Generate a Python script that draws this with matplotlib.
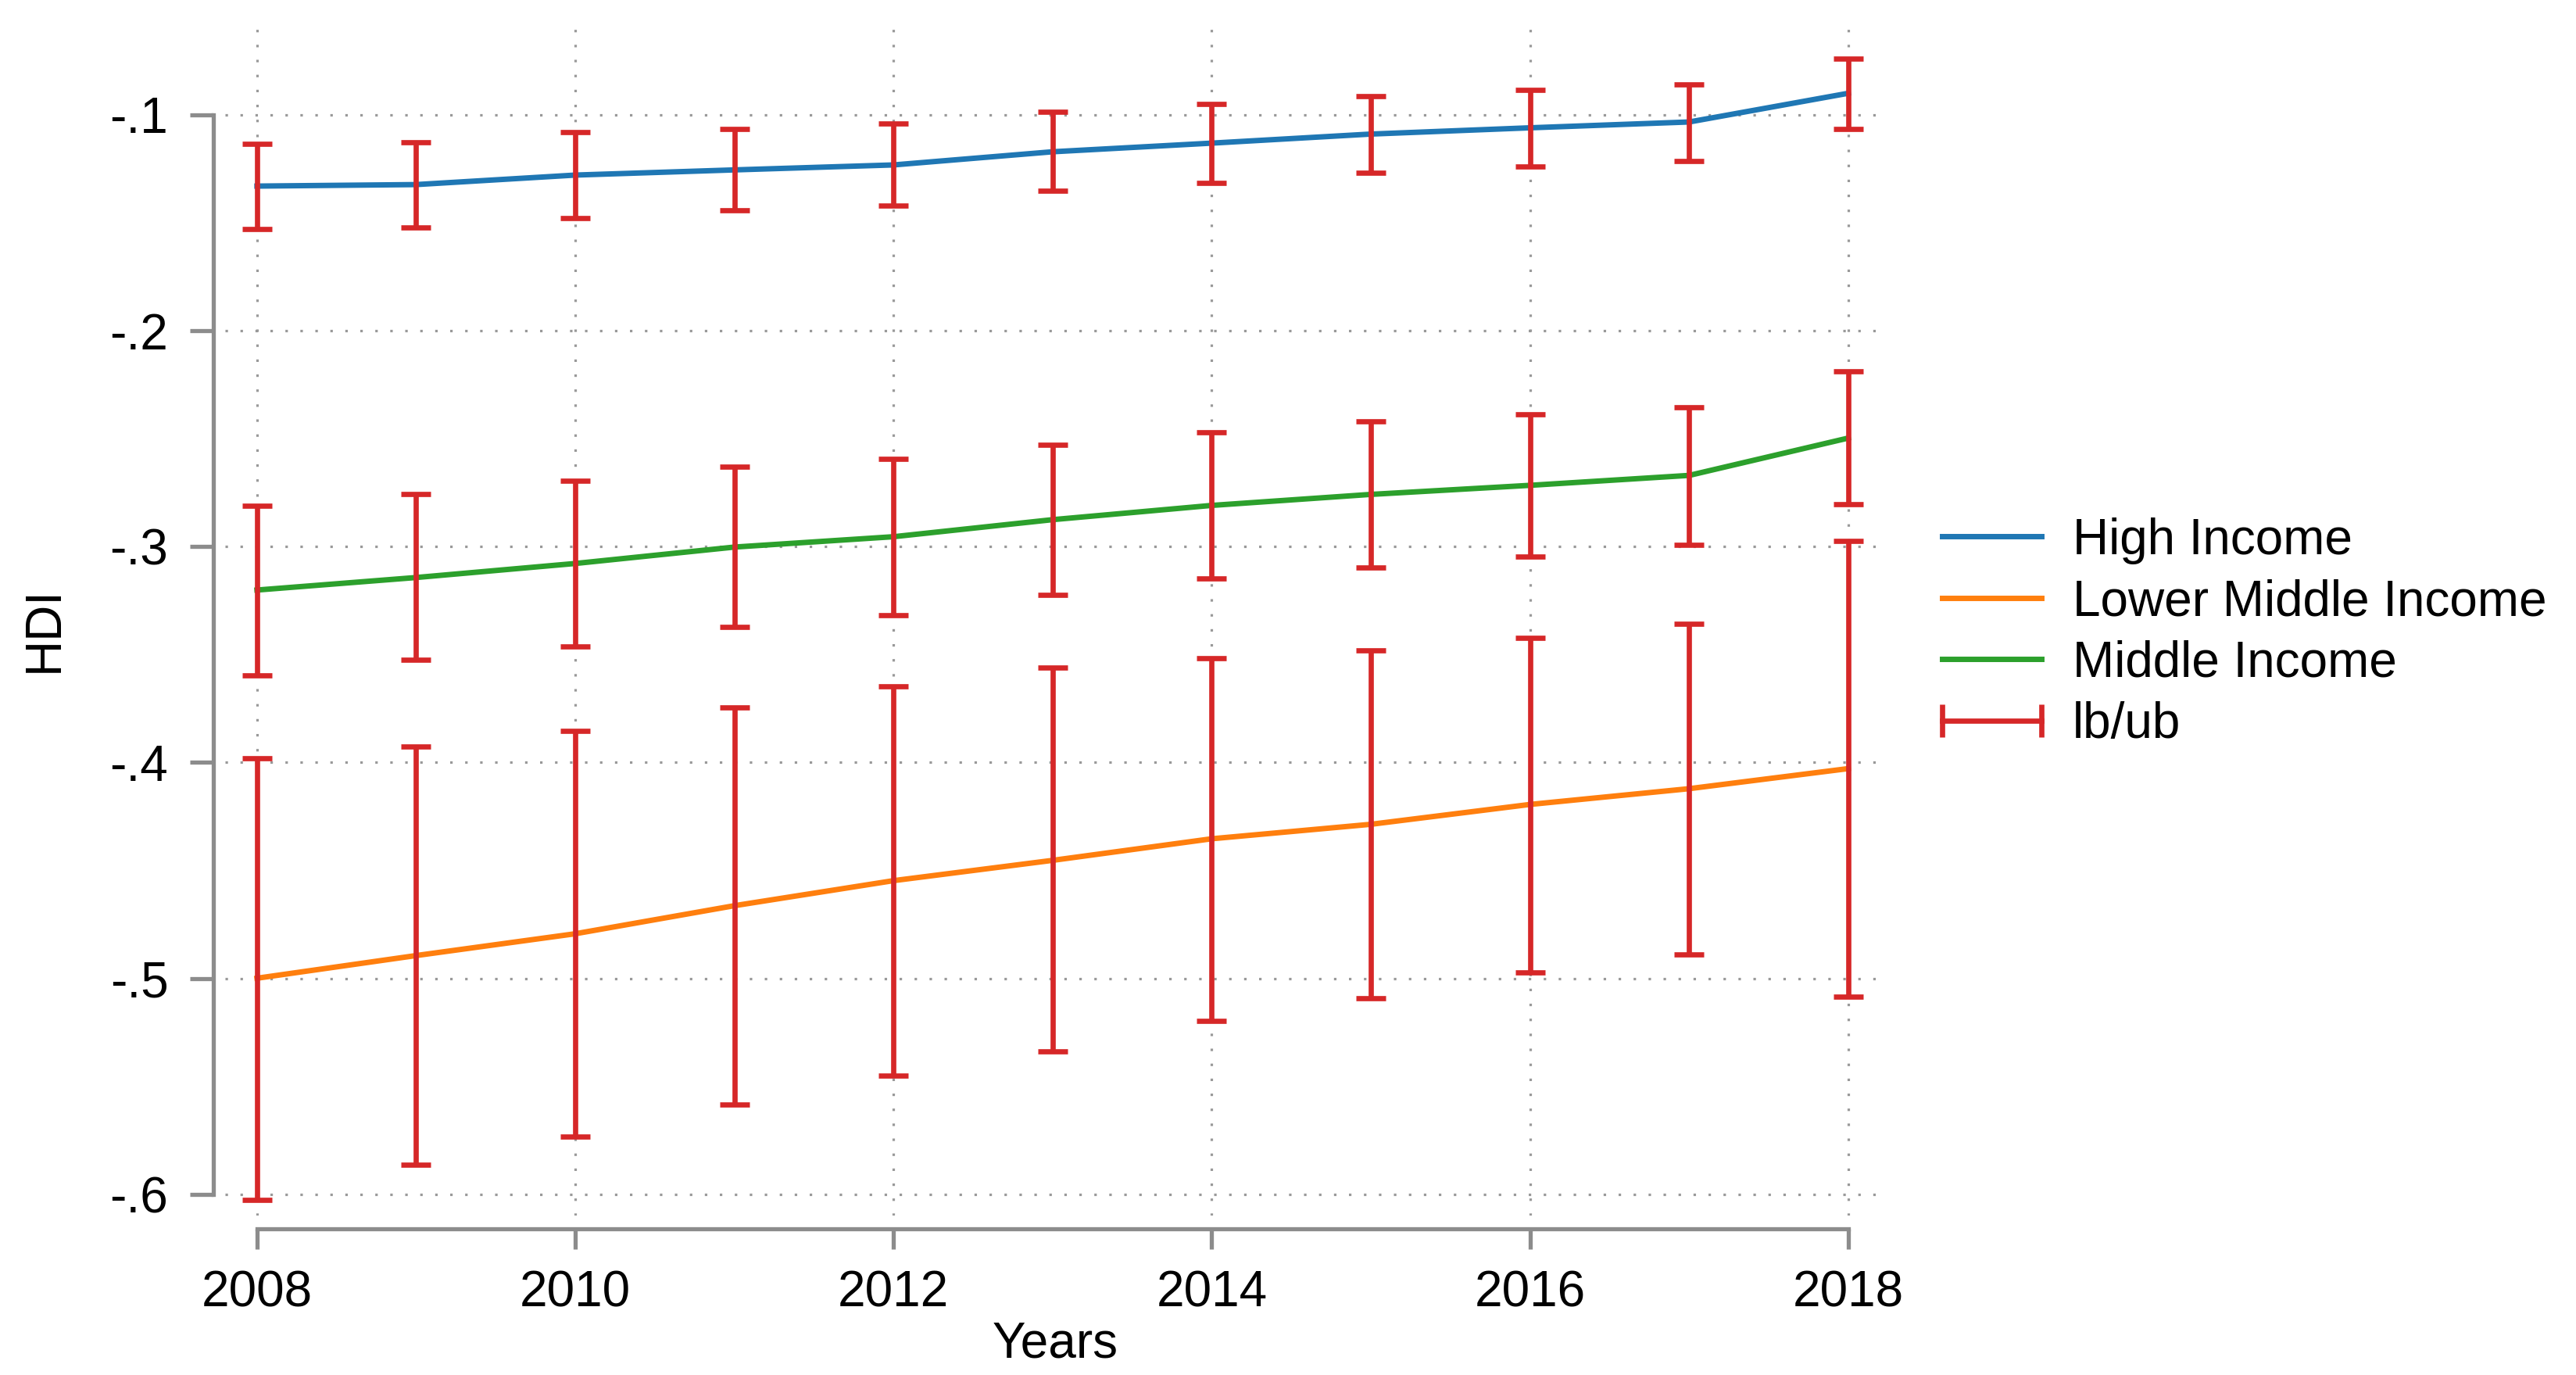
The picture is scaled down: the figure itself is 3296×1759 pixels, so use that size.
#!/usr/bin/env python3
"""HDI by income group, 2008-2018, with lb/ub confidence bars."""

import matplotlib
matplotlib.use("Agg")
import matplotlib.pyplot as plt
from matplotlib.lines import Line2D
import numpy as np

plt.rcParams['font.family'] = ['Liberation Sans', 'DejaVu Sans']

# ---- data ----
years = [2008, 2009, 2010, 2011, 2012, 2013, 2014, 2015, 2016, 2017, 2018]

high = [-0.1330, -0.1323, -0.1279, -0.1255, -0.1232, -0.1171, -0.1131, -0.1089, -0.1060, -0.1033, -0.0900]
high_lb = [-0.1528, -0.1521, -0.1478, -0.1443, -0.1421, -0.1351, -0.1316, -0.1270, -0.1240, -0.1215, -0.1065]
high_ub = [-0.1136, -0.1127, -0.1081, -0.1065, -0.1041, -0.0987, -0.0948, -0.0912, -0.0883, -0.0858, -0.0739]

lower_mid = [-0.4999, -0.4894, -0.4793, -0.4663, -0.4547, -0.4453, -0.4353, -0.4286, -0.4194, -0.4121, -0.4028]
lower_mid_lb = [-0.6025, -0.5863, -0.5733, -0.5584, -0.5449, -0.5338, -0.5197, -0.5091, -0.4972, -0.4889, -0.5083]
lower_mid_ub = [-0.3979, -0.3927, -0.3854, -0.3743, -0.3646, -0.3561, -0.3516, -0.3482, -0.3422, -0.3359, -0.2975]

middle = [-0.3201, -0.3143, -0.3078, -0.3002, -0.2954, -0.2875, -0.2809, -0.2758, -0.2716, -0.2670, -0.2497]
middle_lb = [-0.3596, -0.3525, -0.3461, -0.3373, -0.3318, -0.3223, -0.3148, -0.3098, -0.3047, -0.2990, -0.2805]
middle_ub = [-0.2811, -0.2757, -0.2694, -0.2629, -0.2594, -0.2529, -0.2471, -0.2420, -0.2387, -0.2355, -0.2187]

series_names = ['High Income', 'Lower Middle Income', 'Middle Income']
series_colors = ['#1f77b4', '#ff7f0e', '#2ca02c']

x_ticks = [2008, 2010, 2012, 2014, 2016, 2018]
y_ticks = [-0.1, -0.2, -0.3, -0.4, -0.5, -0.6]
y_tick_labels = ['-.1', '-.2', '-.3', '-.4', '-.5', '-.6']

# ---- figure ----
fig = plt.figure(figsize=(16.48, 8.795), dpi=200)
ax = fig.add_axes([0.0874, 0.116, 0.6447, 0.8636])

red = '#d62728'
gray = '#8c8c8c'
FS = 23
LW = 2.5

lines = [high, lower_mid, middle]
lbs = [high_lb, lower_mid_lb, middle_lb]
ubs = [high_ub, lower_mid_ub, middle_ub]

for vals, name, col in zip(lines, series_names, series_colors):
    ax.plot(years, vals, color=col, lw=LW, label=name, zorder=3)

for vals, lb, ub in zip(lines, lbs, ubs):
    lo = np.array(vals) - np.array(lb)
    hi = np.array(ub) - np.array(vals)
    ax.errorbar(years, vals, yerr=[lo, hi], fmt='none', ecolor=red,
                elinewidth=2.4, capsize=7, capthick=2.4, zorder=4)

ax.set_xlim(2007.80, 2018.236)
ax.set_ylim(-0.6098, -0.0598)

ax.set_xticks(x_ticks)
ax.set_yticks(y_ticks)
ax.set_yticklabels(y_tick_labels)

ax.grid(True, color='#999999', linestyle=(0, (1, 5)), linewidth=1.15)
ax.set_axisbelow(True)

for s in ['top', 'right']:
    ax.spines[s].set_visible(False)
ax.spines['left'].set_position(('outward', 5.4))
ax.spines['bottom'].set_position(('outward', 6.1))
ax.spines['left'].set_bounds(-0.6, -0.1)
ax.spines['bottom'].set_bounds(2008, 2018)
for s in ['left', 'bottom']:
    ax.spines[s].set_color(gray)
    ax.spines[s].set_linewidth(1.9)

ax.tick_params(axis='y', direction='out', length=10.8, width=1.9, color=gray,
               pad=10, labelsize=FS)
ax.tick_params(axis='x', direction='out', length=9.4, width=1.9, color=gray,
               pad=9.4, labelsize=FS)

ax.set_ylabel('HDI', fontsize=FS)
ax.yaxis.set_label_coords(-0.1087, 0.4937)
ax.yaxis.label.set_va('center')
ax.set_xlabel('Years', fontsize=FS)
ax.xaxis.set_label_coords(0.5, -0.1086)
ax.xaxis.label.set_va('center')

# legend
handles = [Line2D([], [], color=c, lw=LW) for c in series_colors]
handles.append(Line2D([], [], color=red, lw=2.4, marker='|', markersize=15,
                      markeredgewidth=2.4))
labels = series_names + ['lb/ub']
fig.legend(handles, labels, loc='center left', bbox_to_anchor=(0.748, 0.5398),
           frameon=False, fontsize=FS, numpoints=2, borderpad=0,
           borderaxespad=0, handlelength=2.6, handletextpad=0.32,
           labelspacing=0.29)

fig.savefig('out.png', dpi=200)
